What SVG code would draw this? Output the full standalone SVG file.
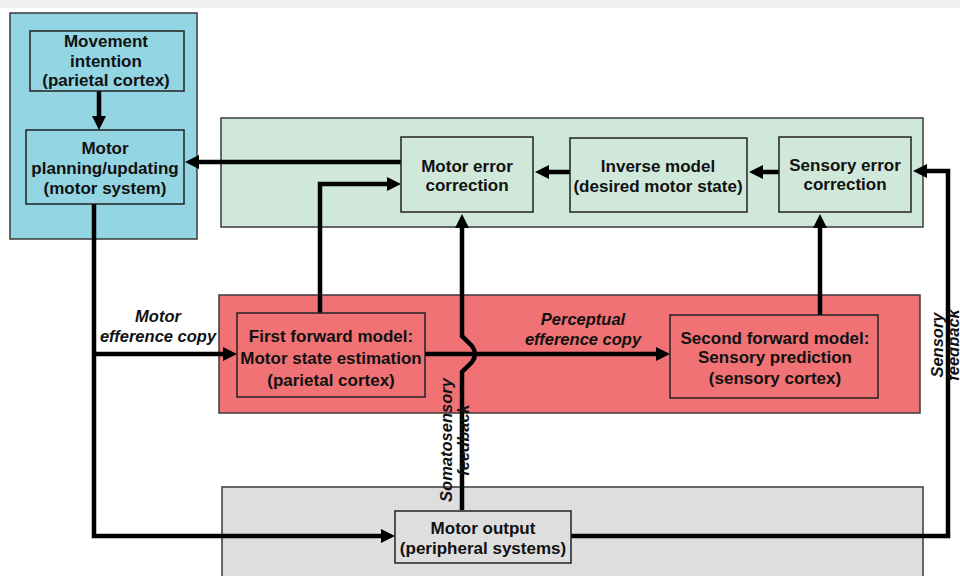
<svg xmlns="http://www.w3.org/2000/svg" width="960" height="576" viewBox="0 0 960 576">
<style>
.panel{stroke:#3a3a3a;stroke-width:1.5}
.box{stroke:#222;stroke-width:1.5}
.t{font-family:"Liberation Sans",Arial,sans-serif;font-weight:bold;font-size:17px;fill:#111;text-anchor:middle}
.it{font-family:"Liberation Sans",Arial,sans-serif;font-weight:bold;font-style:italic;font-size:16.5px;fill:#111;text-anchor:middle}
.c{fill:none;stroke:#000;stroke-width:4.5;stroke-linejoin:miter}
</style>
<defs>
<marker id="ah" markerUnits="userSpaceOnUse" markerWidth="16" markerHeight="14" refX="1" refY="7" orient="auto" overflow="visible">
<path d="M0,0 L14,7 L0,14 z" fill="#000"/>
</marker>
</defs>
<rect x="0" y="0" width="960" height="576" fill="#fff"/>
<rect x="0" y="0" width="960" height="8" fill="#efefef"/>

<g id="panels">
<rect class="panel" x="10" y="13" width="187" height="226" fill="#93d5e3"/>
<rect class="panel" x="221" y="118" width="702" height="109" fill="#cfe8da"/>
<rect class="panel" x="219" y="295" width="701" height="118" fill="#f07275"/>
<rect class="panel" x="222" y="487" width="701" height="95" fill="#dedede"/>
</g>

<g id="connectors">
<path class="c" d="M99,91 V117" marker-end="url(#ah)"/>
<path class="c" d="M401,162 H198" marker-end="url(#ah)"/>
<path class="c" d="M570,172 H548" marker-end="url(#ah)"/>
<path class="c" d="M779,172 H762" marker-end="url(#ah)"/>
<path class="c" d="M571,536 H948 V171 H926" marker-end="url(#ah)"/>
<path class="c" d="M320,313 V184 H388" marker-end="url(#ah)"/>
<path class="c" d="M820,315 V227" marker-end="url(#ah)"/>
<path class="c" d="M462,510 V372 L472,362 Q478,354 472,346 L462,336 V227" marker-end="url(#ah)"/>
<path class="c" d="M425,354 H657" marker-end="url(#ah)"/>
<path class="c" d="M94,204 V536 H382" marker-end="url(#ah)"/>
<path class="c" d="M94,354 H224" marker-end="url(#ah)"/>
</g>

<g id="movement-intention">
<rect class="box" x="30" y="31" width="154" height="60" fill="#93d5e3"/>
<text class="t" x="106" y="47">Movement</text>
<text class="t" x="106" y="67">intention</text>
<text class="t" x="106" y="86">(parietal cortex)</text>
</g>

<g id="motor-planning">
<rect class="box" x="26" y="130" width="158" height="74" fill="#93d5e3"/>
<text class="t" x="105" y="154">Motor</text>
<text class="t" x="105" y="174">planning/updating</text>
<text class="t" x="105" y="194">(motor system)</text>
</g>

<g id="motor-error-correction">
<rect class="box" x="401" y="137" width="132" height="75" fill="#cfe8da"/>
<text class="t" x="467" y="172">Motor error</text>
<text class="t" x="467" y="191">correction</text>
</g>

<g id="inverse-model">
<rect class="box" x="570" y="138" width="177" height="74" fill="#cfe8da"/>
<text class="t" x="658" y="172">Inverse model</text>
<text class="t" x="658" y="192">(desired motor state)</text>
</g>

<g id="sensory-error-correction">
<rect class="box" x="779" y="137" width="132" height="75" fill="#cfe8da"/>
<text class="t" x="845" y="171">Sensory error</text>
<text class="t" x="845" y="190">correction</text>
</g>

<g id="first-forward-model">
<rect class="box" x="237" y="313" width="188" height="84" fill="#f07275"/>
<text class="t" x="331" y="342">First forward model:</text>
<text class="t" x="331" y="364">Motor state estimation</text>
<text class="t" x="331" y="386">(parietal cortex)</text>
</g>

<g id="second-forward-model">
<rect class="box" x="670" y="315" width="208" height="83" fill="#f07275"/>
<text class="t" x="775" y="344">Second forward model:</text>
<text class="t" x="775" y="363">Sensory prediction</text>
<text class="t" x="775" y="384">(sensory cortex)</text>
</g>

<g id="motor-output">
<rect class="box" x="395" y="511" width="176" height="52" fill="#dedede"/>
<text class="t" x="483" y="534">Motor output</text>
<text class="t" x="483" y="554">(peripheral systems)</text>
</g>

<g id="labels">
<text class="it" x="158" y="322">Motor</text>
<text class="it" x="158" y="342">efference copy</text>
<text class="it" x="583" y="325">Perceptual</text>
<text class="it" x="583" y="345">efference copy</text>
<text class="it" transform="translate(452,440) rotate(-90)" x="0" y="0">Somatosensory</text>
<text class="it" transform="translate(469,440) rotate(-90)" x="0" y="0">feedback</text>
<text class="it" transform="translate(943,345) rotate(-90)" x="0" y="0">Sensory</text>
<text class="it" transform="translate(959,345) rotate(-90)" x="0" y="0">feedback</text>
</g>
</svg>
